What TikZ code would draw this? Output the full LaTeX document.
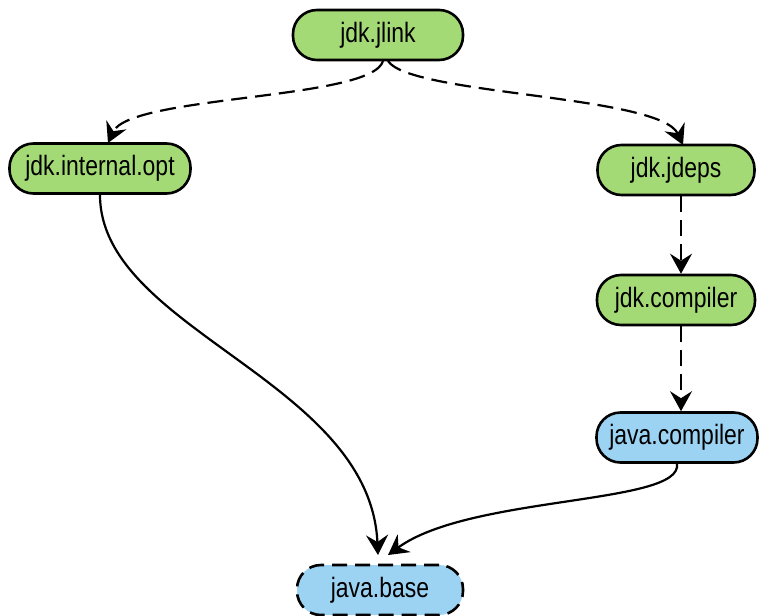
\documentclass[tikz,border=0pt]{standalone}
\usepackage{fontspec}
\setmainfont[FakeStretch=0.82]{Liberation Sans}
\usetikzlibrary{arrows.meta}
\definecolor{modgreen}{RGB}{164,218,118}
\definecolor{modblue}{RGB}{156,211,242}
\tikzset{
  module/.style={rectangle, rounded corners=24pt, draw=black, line width=2.6pt,
    minimum height=50pt, inner xsep=4pt, font=\fontsize{28}{30}\selectfont},
  userm/.style={module, fill=modgreen},
  jdkm/.style={module, fill=modblue},
  dep/.style={line width=2.2pt, -{Stealth[length=20pt,width=22pt,inset=7pt]}},
  qdep/.style={dep, dash pattern=on 16pt off 8pt},
}
\begin{document}
\begin{tikzpicture}[x=1pt,y=-1pt]
  \useasboundingbox (0,0) rectangle (759,615);
  \node[userm, minimum width=170pt] (jlink) at (378,35) {jdk.jlink};
  \node[userm, minimum width=181pt] (iopt) at (100,168.5) {jdk.internal.opt};
  \node[userm, minimum width=157pt] (jdeps) at (676,170) {jdk.jdeps};
  \node[userm, minimum width=158pt] (jcomp) at (676,300) {jdk.compiler};
  \node[jdkm, minimum width=161pt] (jvcomp) at (677,437.5) {java.compiler};
  \node[jdkm, minimum width=166pt, dash pattern=on 15pt off 8pt] (jbase) at (380,590) {java.base};

  \coordinate (jlinkL) at (383,61);
  \coordinate (jlinkR) at (388,61);
  \draw[qdep] (jlinkL) .. controls (372,100) and (130,95) .. (108,143);
  \draw[qdep] (jlinkR) .. controls (410,95) and (660,95) .. (683,145);
  \draw[qdep] (jdeps.south -| 681,0) -- (jcomp.north -| 681,0);
  \draw[qdep] (jcomp.south -| 681,0) -- (jvcomp.north -| 681,0);
  \draw[dep] (iopt.south) .. controls (100,330) and (370,380) .. (378,555);
  \draw[dep] (jvcomp.south) .. controls (683,505) and (470,495) .. (388,555);
\end{tikzpicture}
\end{document}
